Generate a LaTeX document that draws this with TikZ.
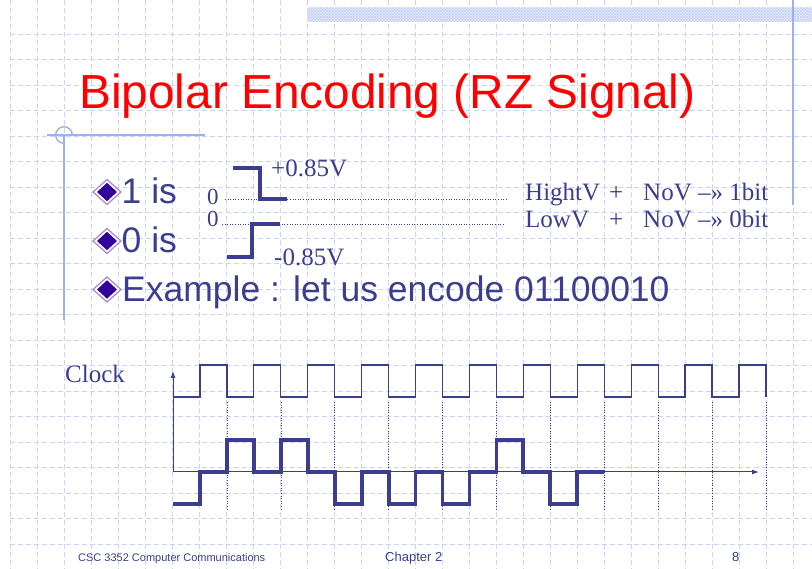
\documentclass[tikz,border=0pt]{standalone}
\usepackage{fontspec}
\setmainfont{Liberation Sans}
\newfontfamily\serifft{Liberation Serif}
\usetikzlibrary{arrows.meta,patterns}
\definecolor{navy}{HTML}{3D3D8F}
\definecolor{gridblue}{HTML}{C9D4F6}
\definecolor{deco}{HTML}{9DB1F0}
\definecolor{bulletin}{HTML}{330099}
\definecolor{bulletout}{HTML}{A58FD6}
\definecolor{hatchbg}{HTML}{E6ECFD}
\definecolor{hatchfg}{HTML}{C4D1F6}
\definecolor{titlered}{HTML}{FF0000}
\tikzset{
  gridline/.style={gridblue, line width=0.8pt, dash pattern=on 5pt off 3pt},
  decoline/.style={deco, line width=1.4pt},
  wave/.style={navy, line width=3.8pt, line join=miter},
  clockline/.style={navy, line width=1.2pt},
  guide/.style={navy, line width=0.6pt, dotted},
  axisline/.style={navy, line width=1pt, -{Latex[length=7pt,width=5pt]}},
  bodytext/.style={inner sep=0pt, anchor=base west, text=navy, font=\fontsize{35.5}{40}\selectfont},
  serifsmall/.style={inner sep=0pt, anchor=base west, text=navy, font=\serifft\fontsize{25}{28}\selectfont},
  footertext/.style={inner sep=0pt, anchor=base west, text=navy},
  bulletouter/.style={fill=white, draw=bulletout, line width=1.3pt},
  bulletinner/.style={fill=bulletin}
}
\begin{document}
\begin{tikzpicture}[x=1pt,y=-1pt]
\useasboundingbox (0,0) rectangle (812,569);
\fill[white] (0,0) rectangle (812,569);
% background grid
\foreach \i in {0,...,29} \draw[gridline] ({10+27.0*\i},0) -- ({10+27.0*\i},569);
\foreach \j in {0,...,20} \draw[gridline] (10,{34+25.5*\j}) -- (812,{34+25.5*\j});
% top hatch band
\fill[hatchbg] (307,8) rectangle (812,22);
\fill[pattern=crosshatch, pattern color=hatchfg] (307,8) rectangle (812,22);
% right vertical rule
\draw[decoline] (793,0) -- (793,205);
% left decoration
\coordinate (dc) at (64,135);
\draw[decoline] (47,135) -- (205,135);
\draw[decoline] (64,135) -- (64,320);
\draw[decoline] (dc) ++(8.3,0) arc[start angle=0, end angle=-270, radius=8.3];

% title
\node[inner sep=0pt, anchor=base west, text=titlered, font=\fontsize{47.8}{52}\selectfont] (title) at (79,109) {Bipolar Encoding (RZ Signal)};

% bullets
\foreach \n/\y in {b1/192, b2/241, b3/289.5} {
  \coordinate (\n) at (107,\y);
  \fill[bulletouter] (\n) +(-14,0) -- +(0,-12.5) -- +(14,0) -- +(0,12.5) -- cycle;
  \fill[bulletinner] (\n) +(-10,0) -- +(0,-9.2) -- +(10,0) -- +(0,9.2) -- cycle;
}
\node[bodytext] (one) at (121.5,204) {1 is};
\node[bodytext] (zero) at (121.5,253) {0 is};
\node[bodytext] (example) at (122,302) {Example : let us encode 01100010};

% level sketches
\draw[guide] (225,199) -- (508,199);
\draw[guide] (222,224) -- (503,224);
\draw[wave] (233,168) -- (260,168) -- (260,199) -- (287,199);
\draw[wave] (227,257) -- (252,257) -- (252,224) -- (280,224);
\node[serifsmall] (p85) at (271,177) {+0.85V};
\node[serifsmall] (m85) at (274,266) {-0.85V};
\node[serifsmall, font=\serifft\fontsize{23}{26}\selectfont] (z1) at (207,205) {0};
\node[serifsmall, font=\serifft\fontsize{23}{26}\selectfont] (z2) at (207,227) {0};
\node[serifsmall] (hv) at (525,201) {HightV};
\node[serifsmall] (hp) at (609,201) {+};
\node[serifsmall] (hn) at (643,201) {NoV –» 1bit};
\node[serifsmall] (lv) at (525,228) {LowV};
\node[serifsmall] (lp) at (609,228) {+};
\node[serifsmall] (ln) at (643,228) {NoV –» 0bit};

% timing diagram
\node[serifsmall] (clock) at (65,383) {Clock};
\foreach \k in {0,...,22} \coordinate (t\k) at ({173+26.95*\k},0);
\coordinate (L) at (0,504);
\coordinate (Z) at (0,472);
\coordinate (H) at (0,440);
\coordinate (CL) at (0,397);
\coordinate (CH) at (0,365);
\coordinate (DT) at (0,402);
\coordinate (DB) at (0,510);
\coordinate (O) at (173,472);
\coordinate (AT) at (173,371);
\coordinate (AR) at (759,472);
\foreach \k in {2,4,...,22} \draw[guide] (t\k |- DT) -- (t\k |- DB);
\draw[axisline] (O) -- (AT);
\draw[axisline] (O) -- (AR);
\draw[clockline] (t0 |- CL)
  \foreach \a/\b in {1/2,3/4,5/6,7/8,9/10,11/12,13/14,15/16,17/18,19/20,21/22} {
    -- (t\a |- CL) -- (t\a |- CH) -- (t\b |- CH) -- (t\b |- CL)
  };
\draw[wave] (t0|-L) -- (t1|-L) -- (t1|-Z) -- (t2|-Z) -- (t2|-H) -- (t3|-H) -- (t3|-Z) -- (t4|-Z) -- (t4|-H) -- (t5|-H) -- (t5|-Z) -- (t6|-Z) -- (t6|-L) -- (t7|-L) -- (t7|-Z) -- (t8|-Z) -- (t8|-L) -- (t9|-L) -- (t9|-Z) -- (t10|-Z) -- (t10|-L) -- (t11|-L) -- (t11|-Z) -- (t12|-Z) -- (t12|-H) -- (t13|-H) -- (t13|-Z) -- (t14|-Z) -- (t14|-L) -- (t15|-L) -- (t15|-Z) -- (t16|-Z);

% footer
\node[footertext, font=\fontsize{11}{13}\selectfont] (course) at (78,561) {CSC 3352 Computer Communications};
\node[footertext, font=\fontsize{13}{15}\selectfont] (chapter) at (385,561) {Chapter 2};
\node[footertext, font=\fontsize{13}{15}\selectfont] (page) at (732,561) {8};
\end{tikzpicture}
\end{document}
